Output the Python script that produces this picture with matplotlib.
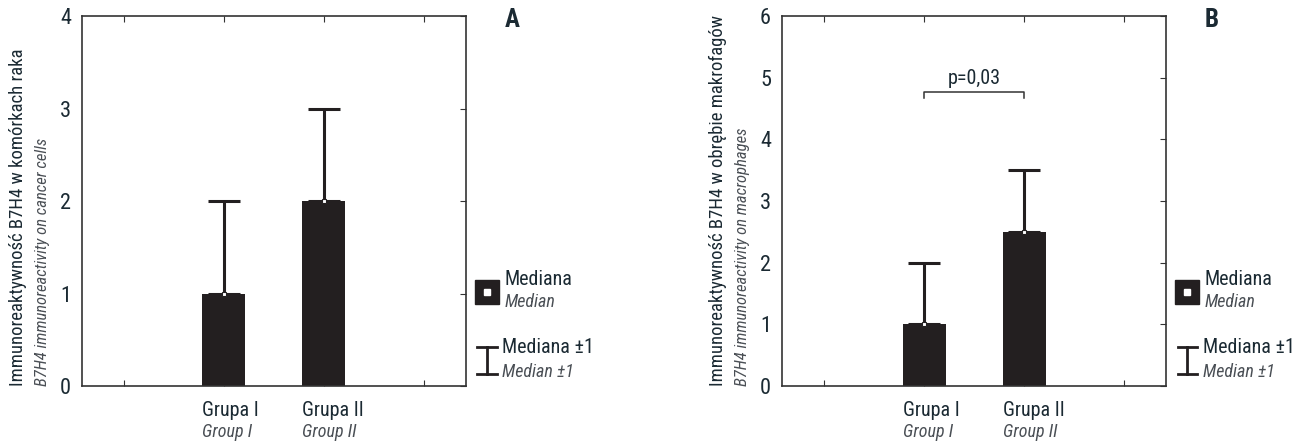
import matplotlib
matplotlib.use("Agg")
import matplotlib.pyplot as plt
from matplotlib import font_manager
import matplotlib.transforms as mtransforms

# data
groups_pl = ["Grupa I", "Grupa II"]
groups_en = ["Group I", "Group II"]
median_a = [1.0, 2.0]
upper_a = [2.0, 3.0]
median_b = [1.0, 2.5]
upper_b = [2.0, 3.5]
yticks_a = [0, 1, 2, 3, 4]
yticks_b = [0, 1, 2, 3, 4, 5, 6]
p_text = "p=0,03"
p_level = 4.77

names = {f.name for f in font_manager.fontManager.ttflist}
font = "DejaVu Sans"
for cand in ["Liberation Sans Narrow", "Roboto Condensed", "Open Sans Condensed"]:
    if cand in names:
        font = cand
        break
plt.rcParams["font.family"] = [font, "DejaVu Sans"]
plt.rcParams["font.stretch"] = "condensed"

dark = "#1b2a33"
gray = "#4a4f55"
barc = "#231f20"

fig = plt.figure(figsize=(13.1, 4.42), dpi=100)
ax_a = fig.add_axes([0.0626, 0.1267, 0.2931, 0.837])
ax_b = fig.add_axes([0.597, 0.1267, 0.2931, 0.837])


def panel(ax, med, up, yticks, letter, lab_pl, lab_en):
    pos = [1, 2]
    w = 0.43
    ax.bar(pos, med, width=w, color=barc, zorder=2)
    err = [u - m for u, m in zip(up, med)]
    ax.errorbar(pos, med, yerr=[[0] * len(med), err], fmt="none", ecolor=barc,
                elinewidth=2.2, capsize=11.5, capthick=2.2, zorder=3)
    ax.plot(pos, med, "s", ms=3.5, mfc="white", mec=barc, mew=0.8, zorder=4)
    ax.set_xlim(-0.42, 3.42)
    ax.set_ylim(yticks[0], yticks[-1])
    ax.set_xticks([0, 1, 2, 3])
    ax.set_xticklabels([])
    ax.set_yticks(yticks)
    ax.set_yticklabels([str(t) for t in yticks], fontsize=16, color=dark)
    ax.tick_params(axis="x", direction="in", top=True, length=4, color="#333")
    ax.tick_params(axis="y", direction="in", right=True, left=False, length=4,
                   color="#333", pad=8)
    for s in ax.spines.values():
        s.set_linewidth(1.2)
        s.set_color("#333")
    tr = mtransforms.blended_transform_factory(ax.transData, ax.transAxes)
    for p, gp, ge in zip(pos, groups_pl, groups_en):
        ax.text(p - w / 2, -0.065, gp, transform=tr, ha="left", va="center",
                fontsize=14.5, color=dark)
        ax.text(p - w / 2, -0.124, ge, transform=tr, ha="left", va="center",
                fontsize=13, color=gray, style="italic")
    ax.text(-0.167, 0.0, lab_pl, transform=ax.transAxes, rotation=90,
            rotation_mode="anchor", ha="left", va="center", fontsize=13.5, color=dark)
    ax.text(-0.104, 0.0, lab_en, transform=ax.transAxes, rotation=90,
            rotation_mode="anchor", ha="left", va="center", fontsize=12,
            color=gray, style="italic")
    ax.text(1.12, 0.99, letter, transform=ax.transAxes, ha="center", va="center",
            fontsize=18, fontweight="bold", color=dark)
    # legend
    ax.plot([1.055], [0.254], "s", ms=17, color=barc, transform=ax.transAxes,
            clip_on=False)
    ax.plot([1.055], [0.254], "s", ms=5, color="white", transform=ax.transAxes,
            clip_on=False)
    ax.text(1.10, 0.289, "Mediana", transform=ax.transAxes, ha="left",
            va="center", fontsize=14.5, color=dark)
    ax.text(1.10, 0.227, "Median", transform=ax.transAxes, ha="left",
            va="center", fontsize=13, color=gray, style="italic")
    ax.plot([1.055, 1.055], [0.032, 0.105], color=barc, lw=2,
            transform=ax.transAxes, clip_on=False)
    ax.plot([1.030, 1.080], [0.105, 0.105], color=barc, lw=2,
            transform=ax.transAxes, clip_on=False)
    ax.plot([1.030, 1.080], [0.032, 0.032], color=barc, lw=2,
            transform=ax.transAxes, clip_on=False)
    ax.text(1.095, 0.103, "Mediana \u00b11", transform=ax.transAxes, ha="left",
            va="center", fontsize=14.5, color=dark)
    ax.text(1.095, 0.038, "Median \u00b11", transform=ax.transAxes, ha="left",
            va="center", fontsize=13, color=gray, style="italic")


panel(ax_a, median_a, upper_a, yticks_a, "A",
      "Immunoreaktywność B7H4 w komórkach raka",
      "B7H4 immunoreactivity on cancer cells")
panel(ax_b, median_b, upper_b, yticks_b, "B",
      "Immunoreaktywność B7H4 w obrębie makrofagów",
      "B7H4 immunoreactivity on macrophages")

ax_b.plot([1, 1, 2, 2], [p_level - 0.1, p_level, p_level, p_level - 0.1],
          color="#333", lw=1.1)
ax_b.text(1.5, p_level + 0.06, p_text, ha="center", va="bottom", fontsize=14.5,
          color=dark)

fig.savefig("out.png", dpi=100)
